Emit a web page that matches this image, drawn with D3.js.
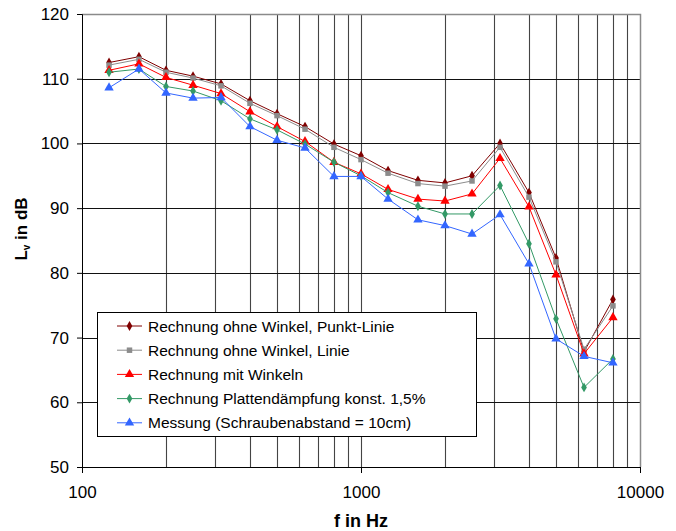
<!DOCTYPE html>
<html>
<head>
<meta charset="utf-8">
<script src="https://cdnjs.cloudflare.com/ajax/libs/d3/7.8.5/d3.min.js"></script>
<style>
  body { margin: 0; background: #ffffff; }
  text { font-family: "Liberation Sans", Arial, sans-serif; }
</style>
</head>
<body>
<div id="chart"></div>
<script>
// third-octave band centre frequencies
var freqs = [125, 160, 200, 250, 315, 400, 500, 630, 800, 1000, 1250, 1600, 2000, 2500, 3150, 4000, 5000, 6300, 8000];

// levels in dB
var punktLinie = [112.5, 113.4, 111.3, 110.4, 109.2, 106.6, 104.6, 102.6, 99.9, 98.1, 95.8, 94.3, 93.9, 95.0, 100.0, 92.4, 82.3, 67.8, 75.9];
var linie = [112.1, 113.0, 111.0, 110.1, 108.9, 106.2, 104.3, 102.2, 99.4, 97.5, 95.4, 93.8, 93.4, 94.2, 99.4, 91.7, 81.7, 68.2, 74.9];
var mitWinkeln = [111.3, 112.3, 110.2, 109.0, 107.7, 104.9, 102.6, 100.3, 97.1, 95.3, 92.9, 91.4, 91.1, 92.2, 97.7, 90.2, 79.7, 67.5, 73.1];
var plattenDaempfung = [111.0, 111.5, 108.8, 108.1, 106.6, 103.8, 102.1, 99.9, 97.1, 95.0, 92.4, 90.3, 89.1, 89.1, 93.5, 84.5, 72.9, 62.3, 66.7];
var messung = [108.6, 111.5, 107.8, 107.0, 107.1, 102.6, 100.5, 99.3, 94.9, 94.9, 91.4, 88.2, 87.3, 86.0, 89.0, 81.4, 69.8, 67.1, 66.1];

var seriesNames = [
    "Rechnung ohne Winkel, Punkt-Linie",
    "Rechnung ohne Winkel, Linie",
    "Rechnung mit Winkeln",
    "Rechnung Plattendämpfung konst. 1,5%",
    "Messung (Schraubenabstand = 10cm)"
];

var yTicks = [50, 60, 70, 80, 90, 100, 110, 120];
var xTicks = [100, 1000, 10000];
var xGrid = [200, 300, 400, 500, 600, 700, 800, 900, 1000, 2000, 3000, 4000, 5000, 6000, 7000, 8000, 9000];

// series styles
var colors = ["#800000", "#8c8c8c", "#ff0000", "#339966", "#3366ff"];
var shapes = [d3.symbolDiamond, d3.symbolSquare, d3.symbolTriangle, d3.symbolDiamond, d3.symbolTriangle];
var sizes = [28, 30, 38, 28, 38];

var series = [punktLinie, linie, mitWinkeln, plattenDaempfung, messung].map(function (vals, i) {
    return {
        name: seriesNames[i],
        color: colors[i],
        shape: shapes[i],
        size: sizes[i],
        values: vals.map(function (v, j) { return { f: freqs[j], v: v }; })
    };
});

var svgWidth = 676;
var svgHeight = 531;

var margin = { top: 14, right: 36, bottom: 64, left: 82 };
var width = svgWidth - margin.left - margin.right;
var height = svgHeight - margin.top - margin.bottom;

var svg = d3.select("#chart")
    .append("svg")
    .attr("width", svgWidth)
    .attr("height", svgHeight);

var g = svg.append("g")
    .attr("transform", "translate(" + margin.left + "," + margin.top + ")");

var x = d3.scaleLog().domain([100, 10000]).range([0, width]);
var y = d3.scaleLinear().domain([50, 120]).range([height, 0]);

// vertical grid
g.selectAll(".vgrid")
    .data(xGrid)
    .enter().append("line")
    .attr("x1", function (d) { return Math.round(x(d)) + 0.5; })
    .attr("x2", function (d) { return Math.round(x(d)) + 0.5; })
    .attr("y1", 0)
    .attr("y2", height)
    .attr("stroke", "#444")
    .attr("stroke-width", 1.1);

// horizontal grid
g.selectAll(".hgrid")
    .data(yTicks.slice(1, -1))
    .enter().append("line")
    .attr("x1", 0)
    .attr("x2", width)
    .attr("y1", function (d) { return Math.round(y(d)) + 0.5; })
    .attr("y2", function (d) { return Math.round(y(d)) + 0.5; })
    .attr("stroke", "#111")
    .attr("stroke-width", 1);

// top and right border
g.append("path")
    .attr("d", "M0," + 0.5 + "H" + (width + 0.5) + "V" + height)
    .attr("fill", "none")
    .attr("stroke", "#8a8a8a")
    .attr("stroke-width", 1.5);

// axes
var yAxis = d3.axisLeft(y).tickValues(yTicks).tickSize(5).tickPadding(8);
var xAxis = d3.axisBottom(x).tickValues(xTicks).tickSize(6).tickPadding(13)
    .tickFormat(d3.format("d"));

var yG = g.append("g").call(yAxis);
var xG = g.append("g").attr("transform", "translate(0," + height + ")").call(xAxis);

[yG, xG].forEach(function (ax) {
    ax.selectAll("path").attr("stroke", "#000");
    ax.selectAll("line").attr("stroke", "#000");
    ax.selectAll("text")
        .attr("fill", "#000")
        .style("font-size", "17px")
        .style("font-family", "'Liberation Sans', Arial, sans-serif");
});

// axis titles
g.append("text")
    .attr("x", width / 2)
    .attr("y", 514 - margin.top + 13)
    .attr("text-anchor", "middle")
    .style("font-size", "18px")
    .style("font-weight", "bold")
    .text("f in Hz");

var yTitle = g.append("text")
    .attr("transform", "translate(" + (27 - margin.left) + "," + (229 - margin.top) + ") rotate(-90)")
    .attr("text-anchor", "middle")
    .style("font-size", "17px")
    .style("font-weight", "bold");
yTitle.append("tspan").text("L");
yTitle.append("tspan").attr("dy", 3).style("font-size", "10px").text("v");
yTitle.append("tspan").attr("dy", -3).text(" in dB");

// lines and markers
var line = d3.line()
    .x(function (d) { return x(d.f); })
    .y(function (d) { return y(d.v); });

var sg = g.selectAll(".series")
    .data(series)
    .enter().append("g");

sg.append("path")
    .attr("d", function (d) { return line(d.values); })
    .attr("fill", "none")
    .attr("stroke", function (d) { return d.color; })
    .attr("stroke-width", 1);

sg.each(function (s) {
    d3.select(this).selectAll("path.pt")
        .data(s.values)
        .enter().append("path")
        .attr("class", "pt")
        .attr("d", d3.symbol().type(s.shape).size(s.size))
        .attr("transform", function (d) { return "translate(" + x(d.f) + "," + y(d.v) + ")"; })
        .attr("fill", s.color);
});

// legend
var legend = svg.append("g").attr("transform", "translate(97,312)");

legend.append("rect")
    .attr("x", 0.5)
    .attr("y", 0.5)
    .attr("width", 379)
    .attr("height", 124)
    .attr("fill", "#fff")
    .attr("stroke", "#000");

var items = legend.selectAll(".item")
    .data(series)
    .enter().append("g")
    .attr("transform", function (d, i) { return "translate(0," + (14 + i * 24.2) + ")"; });

items.append("line")
    .attr("x1", 20)
    .attr("x2", 45)
    .attr("stroke", function (d) { return d.color; })
    .attr("stroke-width", 1);

items.append("path")
    .attr("d", function (d) { return d3.symbol().type(d.shape).size(d.size)(); })
    .attr("transform", "translate(32.5,0)")
    .attr("fill", function (d) { return d.color; });

items.append("text")
    .attr("x", 51)
    .attr("dy", "0.36em")
    .style("font-size", "15.5px")
    .text(function (d) { return d.name; });
</script>
</body>
</html>
